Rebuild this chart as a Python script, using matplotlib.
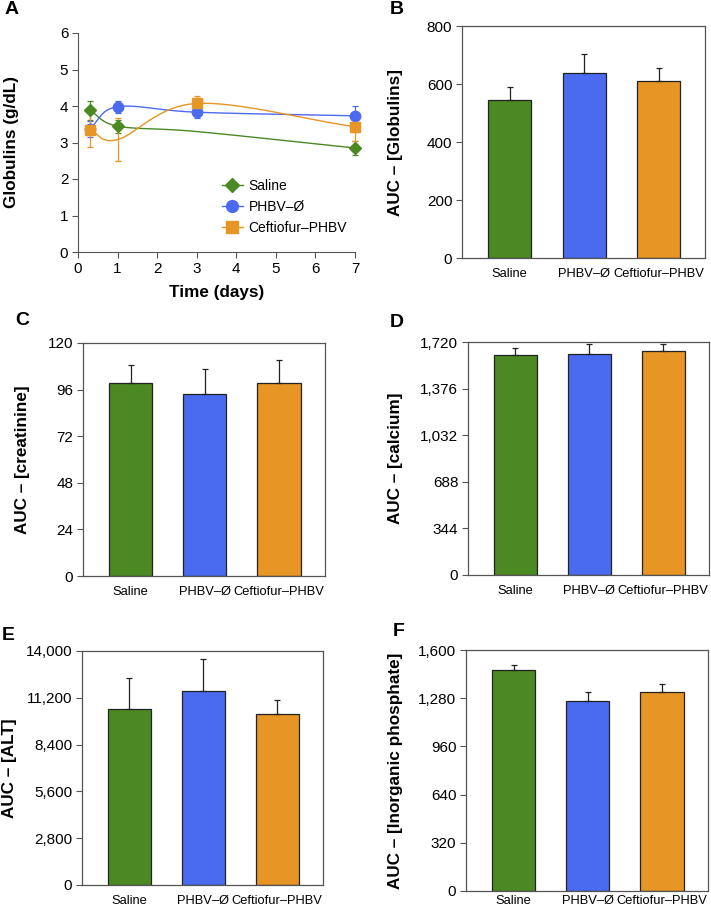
import numpy as np
import matplotlib
matplotlib.use("Agg")
import matplotlib.pyplot as plt
from matplotlib.ticker import FuncFormatter

plt.rcParams['font.family'] = ['Liberation Sans', 'DejaVu Sans']

# ---------------- data ----------------
days = [0.3, 1, 3, 7]
saline_glob = [3.88, 3.45, 3.30, 2.85]
saline_glob_err = [0.27, 0.18, 0.0, 0.18]
phbv_glob = [3.38, 3.98, 3.83, 3.73]
phbv_glob_err = [0.22, 0.17, 0.17, 0.28]
ceft_glob = [3.35, 3.08, 4.07, 3.43]
ceft_glob_err = [0.48, 0.60, 0.20, 0.40]

groups = ["Saline", "PHBV\u2013\u00d8", "Ceftiofur\u2013PHBV"]
auc_globulins = [545, 638, 612]
auc_globulins_err = [45, 67, 43]
auc_creatinine = [99.4, 93.7, 99.4]
auc_creatinine_err = [9.3, 12.7, 11.6]
auc_calcium = [1624, 1634, 1656]
auc_calcium_err = [52, 71, 47]
auc_alt = [10510, 11607, 10211]
auc_alt_err = [1875, 1895, 878]
auc_phosphate = [1465, 1259, 1321]
auc_phosphate_err = [37, 64, 51]

colors = ["#4b8a22", "#4a6bef", "#e79524"]
spine_col = "#555555"

W, H = 711, 910
fig = plt.figure(figsize=(W / 100, H / 100), dpi=100)


def add_ax(l, t, r, b):
    return fig.add_axes([l / W, 1 - b / H, (r - l) / W, (b - t) / H])


def catmull(x, y, n=30):
    px = np.array(x, float)
    py = np.array(y, float)
    px = np.concatenate([[2 * px[0] - px[1]], px, [2 * px[-1] - px[-2]]])
    py = np.concatenate([[2 * py[0] - py[1]], py, [2 * py[-1] - py[-2]]])
    ox, oy = [], []
    t = np.linspace(0, 1, n)
    for i in range(1, len(px) - 2):
        for arr, out in ((px, ox), (py, oy)):
            p0, p1, p2, p3 = arr[i - 1], arr[i], arr[i + 1], arr[i + 2]
            seg = 0.5 * ((2 * p1) + (-p0 + p2) * t + (2 * p0 - 5 * p1 + 4 * p2 - p3) * t ** 2
                         + (-p0 + 3 * p1 - 3 * p2 + p3) * t ** 3)
            out.extend(seg)
    return np.array(ox), np.array(oy)


def set_ylabel_center(ax, box, text, x_px, size=12.3):
    ax.set_ylabel(text, fontsize=size, fontweight="bold")
    ax.yaxis.label.set_va("center")
    ax.yaxis.set_label_coords((x_px - box[0]) / (box[2] - box[0]), 0.5)


# ---------------- panel A ----------------
boxA = (78, 33, 355, 252)
axA = add_ax(*boxA)
series = [
    ("Saline", saline_glob, saline_glob_err, colors[0], "D", 6, [0, 1, 3]),
    ("PHBV\u2013\u00d8", phbv_glob, phbv_glob_err, colors[1], "o", 7.5, [0, 1, 2, 3]),
    ("Ceftiofur\u2013PHBV", ceft_glob, ceft_glob_err, colors[2], "s", 7, [0, 2, 3]),
]
handles = []
for name, vals, errs, col, mk, ms, shown in series:
    sx, sy = catmull(days, vals)
    axA.plot(sx, sy, color=col, lw=1.0, zorder=2, clip_on=False)
    e_idx = [i for i in range(len(days)) if errs[i] > 0]
    axA.errorbar([days[i] for i in e_idx], [vals[i] for i in e_idx],
                 yerr=[errs[i] for i in e_idx], fmt="none", ecolor=col,
                 elinewidth=0.9, capsize=2, capthick=0.9, zorder=3, clip_on=False)
    axA.plot([days[i] for i in shown], [vals[i] for i in shown], linestyle="none",
             marker=mk, ms=ms, color=col, zorder=4, clip_on=False)
    h, = axA.plot([], [], color=col, marker=mk, ms=ms + 1, lw=1.0)
    handles.append((h, name))

axA.set_xlim(0, 7)
axA.set_ylim(0, 6)
axA.set_xticks(range(8))
axA.set_yticks(range(7))
for s in ["top", "right"]:
    axA.spines[s].set_visible(False)
for s in ["left", "bottom"]:
    axA.spines[s].set_color(spine_col)
axA.tick_params(direction="out", length=4, color=spine_col, labelsize=11, pad=3)
axA.set_xlabel("Time (days)", fontsize=12.3, fontweight="bold")
axA.xaxis.label.set_va("center")
axA.xaxis.set_label_coords(0.5, (boxA[3] - 293) / (boxA[3] - boxA[1]))
set_ylabel_center(axA, boxA, "Globulins (g/dL)", 12)
axA.legend([h for h, _ in handles], [n for _, n in handles], loc="lower left",
           bbox_to_anchor=(0.475, 0.02), frameon=False, fontsize=10,
           handlelength=1.5, labelspacing=0.5, handletextpad=0.4)


# ---------------- bar panels ----------------
def thousands(v, pos):
    return f"{int(round(v)):,}"


def bar_panel(box, vals, errs, ymax, ticks, ylabel, label_x, comma=False, xpad=7):
    ax = add_ax(*box)
    x = np.arange(len(groups))
    ax.bar(x, vals, width=0.58, color=colors, edgecolor="#222222", linewidth=0.9, zorder=2)
    ax.errorbar(x, vals, yerr=[np.zeros(len(vals)), errs], fmt="none", ecolor="#222222",
                elinewidth=0.9, capsize=2.5, capthick=0.9, zorder=3)
    ax.set_xlim(-0.64, 2.62)
    ax.set_ylim(0, ymax)
    ax.set_yticks(ticks)
    if comma:
        ax.yaxis.set_major_formatter(FuncFormatter(thousands))
    ax.set_xticks(x)
    ax.set_xticklabels(groups, fontsize=9.3)
    ax.tick_params(axis="x", length=0, pad=xpad)
    ax.tick_params(axis="y", direction="out", length=4, color=spine_col, labelsize=11, pad=3)
    for s in ax.spines.values():
        s.set_color(spine_col)
        s.set_linewidth(0.9)
    set_ylabel_center(ax, box, ylabel, label_x)
    return ax


bar_panel((462, 26, 705, 258), auc_globulins, auc_globulins_err, 800,
          [0, 200, 400, 600, 800], "AUC \u2013 [Globulins]", 396)
bar_panel((83, 343, 325, 576), auc_creatinine, auc_creatinine_err, 120,
          [0, 24, 48, 72, 96, 120], "AUC \u2013 [creatinine]", 23)
bar_panel((468, 342, 709, 575), auc_calcium, auc_calcium_err, 1720,
          [0, 344, 688, 1032, 1376, 1720], "AUC \u2013 [calcium]", 396, comma=True)
bar_panel((82, 651, 323, 885), auc_alt, auc_alt_err, 14000,
          [0, 2800, 5600, 8400, 11200, 14000], "AUC \u2013 [ALT]", 10, comma=True)
bar_panel((466, 650, 708, 891), auc_phosphate, auc_phosphate_err, 1600,
          [0, 320, 640, 960, 1280, 1600], "AUC \u2013 [Inorganic phosphate]", 396,
          comma=True, xpad=3)

# panel letters
for lab, (px, py) in {"A": (12, 9), "B": (397, 9), "C": (22, 320), "D": (397, 322),
                      "E": (8, 635), "F": (399, 632)}.items():
    fig.text(px / W, 1 - py / H, lab, fontsize=14, fontweight="bold", va="center", ha="center")

fig.savefig("out.png", dpi=100)
